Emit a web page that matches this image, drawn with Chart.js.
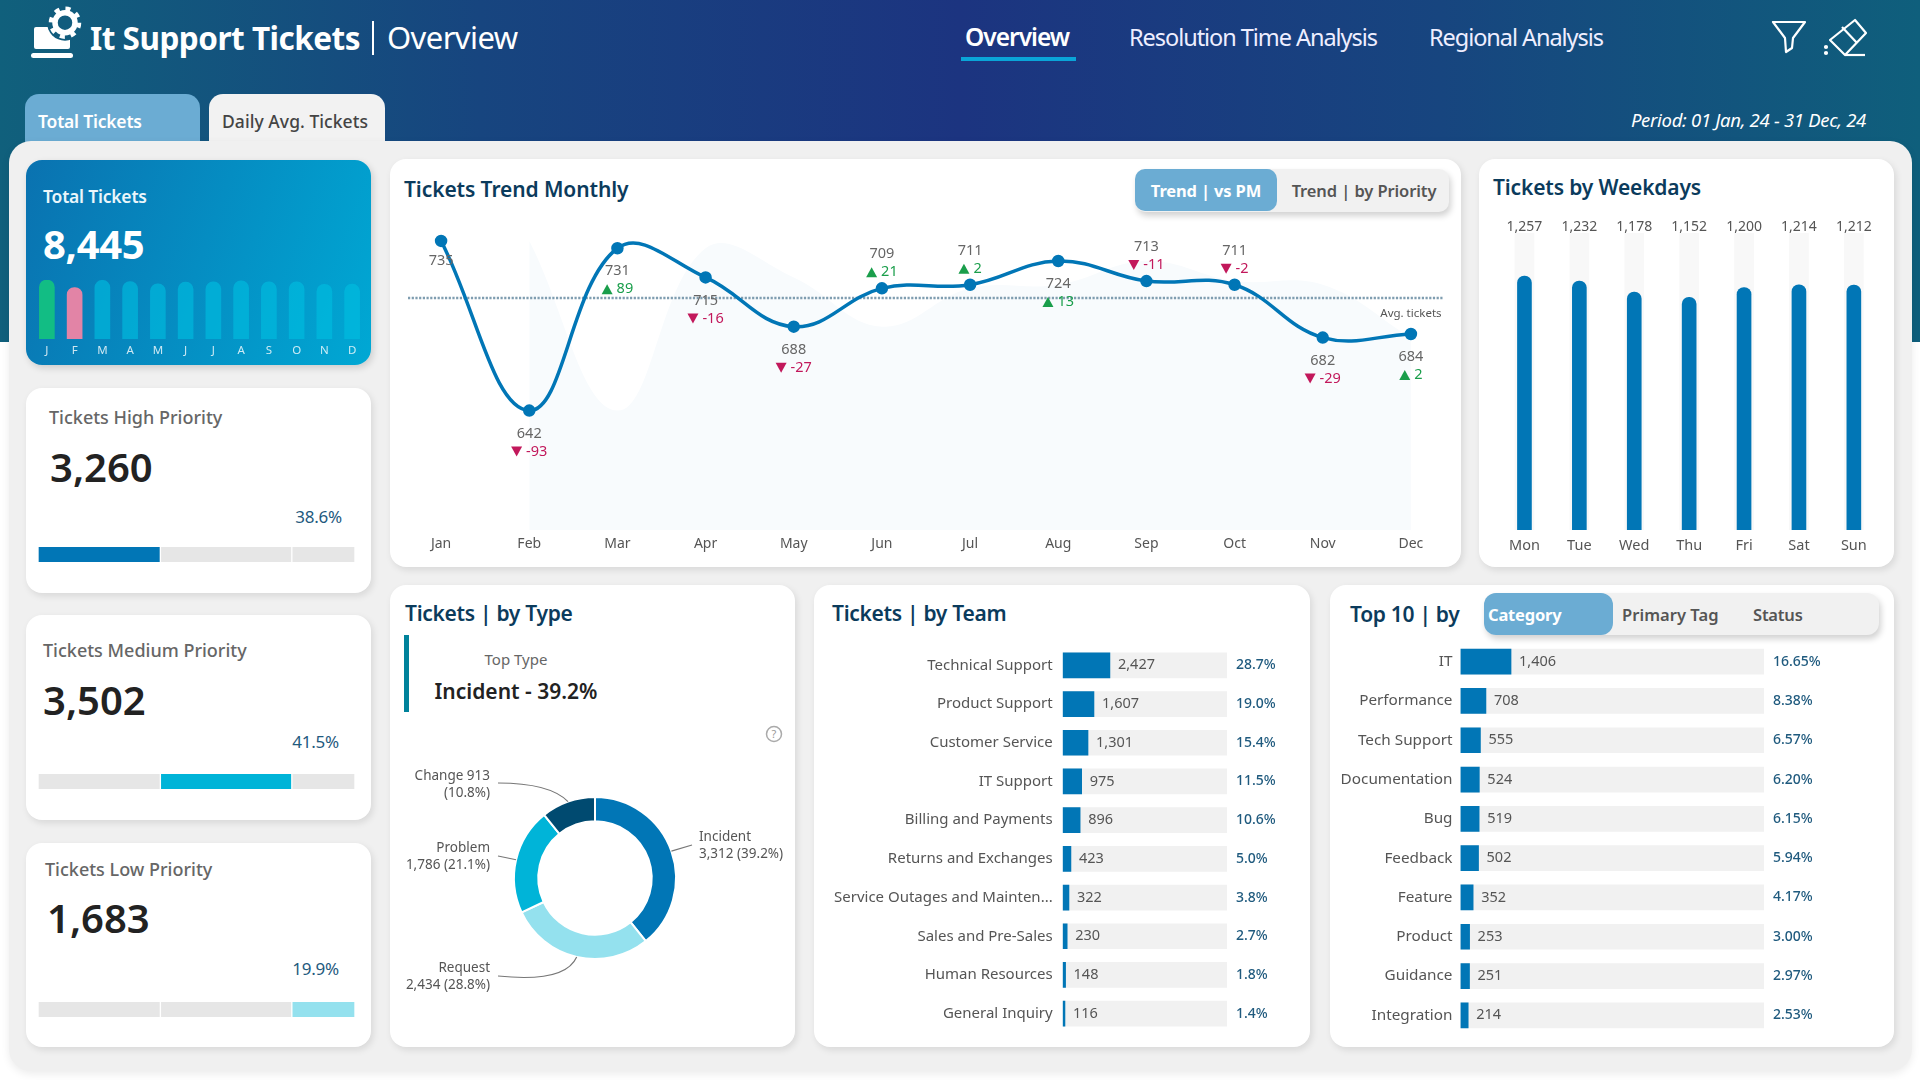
<!DOCTYPE html>
<html><head><meta charset="utf-8">
<script src="https://cdn.jsdelivr.net/npm/chart.js@4"></script>
<style>
*{box-sizing:border-box}
html,body{margin:0;padding:0;width:1920px;height:1080px;overflow:hidden;background:#fff;font-family:"Noto Sans",sans-serif}
.abs,.t,canvas{position:absolute}
.t{white-space:nowrap;transform:translateY(-50%);line-height:1.2}
.r{transform:translate(-100%,-50%)}
.c{transform:translate(-50%,-50%)}
.card{position:absolute;background:#fff;border-radius:16px;box-shadow:2px 3px 7px rgba(0,0,0,.10)}
.h{color:#0b3b5c;font-weight:600;font-size:21px;letter-spacing:-.3px}
.kl{color:#666;font-weight:500;font-size:18px;letter-spacing:0}
.kv{color:#222;font-weight:600;font-size:40px}
.kp{color:#1f5a7e;font-size:17px;letter-spacing:-.2px}
</style></head><body>
<div class="abs" style="left:0;top:0;width:1920px;height:342px;background:linear-gradient(90deg,#10607c 0%,#17457f 25%,#1c3480 50%,#17457f 75%,#0f5f7c 100%)"></div>

<svg class="abs" style="left:20px;top:0" width="70" height="66" viewBox="20 0 70 66" fill="#fff">
<rect x="31" y="53" width="42" height="5" rx="2.5"/>
<path d="M36 27h32q2 0 2 2v18q0 2-2 2H36q-2 0-2-2V29q0-2 2-2z"/>
<circle cx="65" cy="22.700" r="18" fill="#115c7d"/>
<circle cx="65" cy="22.700" r="10" fill="none" stroke="#fff" stroke-width="5.500"/>
<circle cx="65" cy="22.700" r="14" fill="none" stroke="#fff" stroke-width="4.500" stroke-dasharray="5 6"/>
</svg>
<div class="t" style="left:90px;top:38px;color:#fff;font-weight:700;font-size:31.500px;letter-spacing:-.5px">It Support Tickets</div>
<div class="abs" style="left:372px;top:21px;width:2px;height:34px;background:#fff"></div>
<div class="t" style="left:387px;top:38px;color:#fff;font-size:31px;letter-spacing:-.6px">Overview</div>

<div class="t" style="left:965px;top:37px;color:#fff;font-weight:600;font-size:24.500px;letter-spacing:-1px">Overview</div>
<div class="abs" style="left:961px;top:57px;width:115px;height:3.500px;background:#0aa5d8"></div>
<div class="t" style="left:1129px;top:37px;color:#eef;font-size:23.500px;letter-spacing:-1.050px">Resolution Time Analysis</div>
<div class="t" style="left:1429px;top:37px;color:#eef;font-size:23.500px;letter-spacing:-1.050px">Regional Analysis</div>

<svg class="abs" style="left:1760px;top:0" width="120" height="70" viewBox="1760 0 120 70" fill="none" stroke="#fff" stroke-width="2.200" stroke-linejoin="round">
<path d="M1773 22h32l-12 16-1 10-6 4-1-14z"/>
<path d="M1855 20l11 13-21 22-15-15z"/><path d="M1842 27l15 16"/><path d="M1845 55h20"/>
<circle cx="1826" cy="47" r="1" fill="#fff"/><circle cx="1826" cy="53" r="1" fill="#fff"/></svg>

<div class="abs" style="left:25px;top:94px;width:175px;height:50px;border-radius:14px 14px 0 0;background:#6bacd3"></div>
<div class="t" style="left:38px;top:121px;color:#fff;font-weight:600;font-size:17.500px;letter-spacing:-.2px">Total Tickets</div>
<div class="abs" style="left:209px;top:94px;width:176px;height:50px;border-radius:14px 14px 0 0;background:#f2f2f2"></div>
<div class="t" style="left:222px;top:121px;color:#444;font-weight:500;font-size:17.500px;letter-spacing:.05px">Daily Avg. Tickets</div>
<div class="t r" style="left:1866px;top:120px;color:#fff;font-style:italic;font-size:18.500px;letter-spacing:-.3px">Period: 01 Jan, 24 - 31 Dec, 24</div>

<div class="abs" style="left:9px;top:141px;width:1903px;height:930px;border-radius:22px;background:#f0f0f0;box-shadow:0 3px 8px rgba(0,0,0,.08)"></div>

<div class="abs" style="left:26px;top:160px;width:345px;height:205px;border-radius:16px;background:linear-gradient(110deg,#0a72b0,#00a8d4);box-shadow:2px 3px 7px rgba(0,0,0,.15)"></div>
<div class="t" style="left:43px;top:196px;color:#eaf6fb;font-weight:600;font-size:17.500px;letter-spacing:-.2px">Total Tickets</div>
<div class="t" style="left:43px;top:244px;color:#fff;font-weight:700;font-size:40px;letter-spacing:-.3px">8,445</div>
<canvas id="cMini" width="333" height="88" style="left:33px;top:275px"></canvas>

<div class="card" style="left:26px;top:388px;width:345px;height:205px"></div>
<div class="t kl" style="left:49px;top:418px">Tickets High Priority</div>
<div class="t kv" style="left:50px;top:467px">3,260</div>
<div class="t r kp" style="left:342px;top:517px">38.6%</div>
<canvas id="cHigh" width="317" height="15" style="left:38px;top:547px"></canvas>

<div class="card" style="left:26px;top:615px;width:345px;height:205px"></div>
<div class="t kl" style="left:43px;top:651px">Tickets Medium Priority</div>
<div class="t kv" style="left:43px;top:700px">3,502</div>
<div class="t r kp" style="left:339px;top:742px">41.5%</div>
<canvas id="cMed" width="317" height="15" style="left:38px;top:774px"></canvas>

<div class="card" style="left:26px;top:843px;width:345px;height:204px"></div>
<div class="t kl" style="left:45px;top:870px">Tickets Low Priority</div>
<div class="t kv" style="left:47px;top:918px">1,683</div>
<div class="t r kp" style="left:339px;top:969px">19.9%</div>
<canvas id="cLow" width="317" height="15" style="left:38px;top:1002px"></canvas>

<div class="card" style="left:390px;top:159px;width:1071px;height:408px"></div>
<div class="t h" style="left:404px;top:190px;letter-spacing:-.1px">Tickets Trend Monthly</div>
<div class="abs" style="left:1135px;top:169px;width:314px;height:43px;border-radius:10px;background:#f1f1f1;box-shadow:2px 4px 6px rgba(0,0,0,.18)"></div>
<div class="abs" style="left:1135px;top:169px;width:142px;height:42px;border-radius:10px;background:#6bacd3"></div>
<div class="t c" style="left:1206px;top:191px;color:#fff;font-weight:700;font-size:16.500px;letter-spacing:-.15px">Trend | vs PM</div>
<div class="t c" style="left:1364px;top:191px;color:#555;font-weight:600;font-size:16.500px;letter-spacing:-.1px">Trend | by Priority</div>
<canvas id="cTrend" width="1074" height="347" style="left:388.500px;top:218px"></canvas>

<div class="card" style="left:1479px;top:159px;width:415px;height:408px"></div>
<div class="t h" style="left:1493px;top:188px;letter-spacing:-.15px">Tickets by Weekdays</div>
<canvas id="cWeek" width="395" height="367" style="left:1490px;top:200px"></canvas>

<div class="card" style="left:390px;top:585px;width:405px;height:462px"></div>
<div class="t h" style="left:405px;top:614px">Tickets | by Type</div>
<div class="abs" style="left:404px;top:635px;width:5px;height:77px;background:#00829b"></div>
<div class="t c" style="left:516px;top:659px;color:#666;font-size:15px">Top Type</div>
<div class="t c" style="left:516px;top:692px;color:#222;font-weight:600;font-size:21px">Incident - 39.2%</div>
<svg class="abs" style="left:765px;top:725px" width="18" height="18" viewBox="0 0 18 18"><circle cx="9" cy="9" r="7.500" fill="none" stroke="#aaa" stroke-width="1.500"/><text x="9" y="13" text-anchor="middle" font-size="11" fill="#999">?</text></svg>
<canvas id="cType" width="400" height="240" style="left:395px;top:757.700px"></canvas>

<div class="card" style="left:814px;top:585px;width:496px;height:462px"></div>
<div class="t h" style="left:832px;top:614px">Tickets | by Team</div>
<canvas id="cTeam" width="480" height="387" style="left:826px;top:646.300px"></canvas>

<div class="card" style="left:1330px;top:585px;width:564px;height:462px"></div>
<div class="t h" style="left:1350px;top:615px">Top 10 | by</div>
<div class="abs" style="left:1484px;top:593px;width:395px;height:42px;border-radius:12px;background:#f1f1f1;box-shadow:2px 4px 6px rgba(0,0,0,.18)"></div>
<div class="abs" style="left:1484px;top:593px;width:129px;height:42px;border-radius:12px;background:#6bacd3"></div>
<div class="t" style="left:1488px;top:615px;color:#fff;font-weight:700;font-size:16.500px;letter-spacing:-.2px">Category</div>
<div class="t" style="left:1622px;top:615px;color:#555;font-weight:600;font-size:16.500px;letter-spacing:.05px">Primary Tag</div>
<div class="t" style="left:1753px;top:615px;color:#555;font-weight:600;font-size:16.500px;letter-spacing:-.2px">Status</div>
<canvas id="cTop" width="540" height="393.500" style="left:1340px;top:641.800px"></canvas>

<script>
const months = ['Jan','Feb','Mar','Apr','May','Jun','Jul','Aug','Sep','Oct','Nov','Dec'];
const monthInitials = ['J','F','M','A','M','J','J','A','S','O','N','D'];
const monthlyTickets = [735,642,731,715,688,709,711,724,713,711,682,684];
const previousMonth = [null,735,642,731,715,688,709,711,724,713,711,682];
const monthDelta = [null,-93,89,-16,-27,21,2,13,-11,-2,-29,2];
const monthLabelBelow = [true,true,true,true,true,false,false,true,false,false,true,true];
const avgTickets = 703.75;
const weekdays = ['Mon','Tue','Wed','Thu','Fri','Sat','Sun'];
const weekdayTickets = [1257,1232,1178,1152,1200,1214,1212];
const priorityTickets = [3260,3502,1683];
const typeNames = ['Incident','Request','Problem','Change'];
const typeTickets = [3312,2434,1786,913];
const typeLabelLines = [['Incident','3,312 (39.2%)'],['Request','2,434 (28.8%)'],['Problem','1,786 (21.1%)'],['Change 913','(10.8%)']];
const teams = ['Technical Support','Product Support','Customer Service','IT Support','Billing and Payments','Returns and Exchanges','Service Outages and Mainten...','Sales and Pre-Sales','Human Resources','General Inquiry'];
const teamTickets = [2427,1607,1301,975,896,423,322,230,148,116];
const teamShare = ['28.7%','19.0%','15.4%','11.5%','10.6%','5.0%','3.8%','2.7%','1.8%','1.4%'];
const topCategories = ['IT','Performance','Tech Support','Documentation','Bug','Feedback','Feature','Product','Guidance','Integration'];
const topTickets = [1406,708,555,524,519,502,352,253,251,214];
const topShare = ['16.65%','8.38%','6.57%','6.20%','6.15%','5.94%','4.17%','3.00%','2.97%','2.53%'];
const totalTickets = 8445;

const FONT = '"Noto Sans", sans-serif';
const BLUE = '#0176b6';
Chart.defaults.font.family = FONT;
Chart.defaults.animation = false;
Chart.defaults.responsive = false;
Chart.defaults.plugins.legend.display = false;
Chart.defaults.plugins.tooltip.enabled = false;
const fmt = n => n.toLocaleString('en-US');
const hiddenGrid = {display:false, drawTicks:false};

/* ---- KPI mini bars ---- */
new Chart('cMini',{type:'bar',
  data:{labels:monthInitials,datasets:[{data:monthlyTickets,barThickness:15,
    borderRadius:{topLeft:7.5,topRight:7.5},borderSkipped:'bottom',
    backgroundColor:ctx=>ctx.dataIndex===0?'#12bd84':ctx.dataIndex===1?'#e284a6':'rgba(0,190,225,.62)'}]},
  options:{layout:{padding:{top:5}},
    scales:{x:{grid:hiddenGrid,border:{display:false},afterFit:s=>{s.height=24},
        ticks:{color:'rgba(255,255,255,.8)',font:{size:11.500},padding:5,maxRotation:0,autoSkip:false}},
      y:{display:false,min:0,max:735}}}});

/* ---- Priority segment bars ---- */
[['cHigh',0,BLUE],['cMed',1,'#00b4d8'],['cLow',2,'#94e1ee']].forEach(([id,active,colour])=>{
  new Chart(id,{type:'bar',
    data:{labels:['Share'],datasets:priorityTickets.map((v,i)=>({data:[v],
      backgroundColor:i===active?colour:'#e6e6e6',borderColor:'#fff',
      borderWidth:{left:1,right:1,top:0,bottom:0},borderSkipped:false,
      barPercentage:1,categoryPercentage:1,stack:'a'}))},
    options:{indexAxis:'y',scales:{x:{display:false,stacked:true,min:0,max:totalTickets},y:{display:false,stacked:true}}}});
});

/* ---- Monthly trend ---- */
const trendOverlay = {id:'trendOverlay',
  afterDatasetDraw(chart,args){
    if(args.index!==0) return;
    const {ctx,chartArea:a,scales:{y}} = chart;
    const py = y.getPixelForValue(avgTickets);
    ctx.save();ctx.strokeStyle='#7f9db0';ctx.lineWidth=2.500;ctx.setLineDash([2.2,1.5]);
    ctx.beginPath();ctx.moveTo(a.left+11,py);ctx.lineTo(a.right-12,py);ctx.stroke();ctx.restore();
  },
  afterDatasetsDraw(chart){
    const {ctx} = chart;
    const pts = chart.getDatasetMeta(1).data;
    ctx.save();ctx.textAlign='center';ctx.textBaseline='middle';
    pts.forEach((p,i)=>{
      const below = monthLabelBelow[i];
      ctx.font='14.5px '+FONT;ctx.fillStyle='#666';
      ctx.fillText(fmt(monthlyTickets[i]),p.x,p.y+(below?(i===0?20:23):-34));
      const d = monthDelta[i];
      if(d===null) return;
      const cy = p.y+(below?41:-16);
      const colour = d<0?'#c2185b':'#1a9e4b';
      ctx.font='14.5px '+FONT;ctx.fillStyle=colour;
      const txt=String(d), w=ctx.measureText(txt).width, total=w+15;
      const left=p.x-total/2;
      ctx.beginPath();
      if(d<0){ctx.moveTo(left,cy-5);ctx.lineTo(left+11,cy-5);ctx.lineTo(left+5.5,cy+5);}
      else{ctx.moveTo(left,cy+5);ctx.lineTo(left+11,cy+5);ctx.lineTo(left+5.5,cy-5);}
      ctx.closePath();ctx.fill();
      ctx.textAlign='left';ctx.fillText(txt,left+15,cy);ctx.textAlign='center';
    });
    const last = pts[pts.length-1];
    ctx.font='11.5px '+FONT;ctx.fillStyle='#555';
    ctx.fillText('Avg. tickets',last.x,last.y-20);
    ctx.restore();
  }};
new Chart('cTrend',{type:'line',
  data:{labels:months,datasets:[
    {data:previousMonth,fill:'origin',backgroundColor:'#f8fbfd',borderWidth:0,pointRadius:0,tension:.4,order:2},
    {data:monthlyTickets,borderColor:BLUE,backgroundColor:BLUE,borderWidth:3.500,pointRadius:4.5,tension:.4,fill:false,order:1}]},
  options:{layout:{padding:{top:3,left:4.600,right:4.600}},clip:false,
    scales:{x:{offset:true,grid:hiddenGrid,border:{display:false},afterFit:s=>{s.height=35},
        ticks:{color:'#555',font:{size:14},padding:6}},
      y:{display:false,min:576.5,max:743.2}}},
  plugins:[trendOverlay]});

/* ---- Weekdays ---- */
const weekTop = {id:'weekTop',afterDatasetsDraw(chart){
  const {ctx,chartArea:a} = chart;
  ctx.save();ctx.textAlign='center';ctx.textBaseline='middle';ctx.font='14px '+FONT;ctx.fillStyle='#555';
  chart.getDatasetMeta(0).data.forEach((b,i)=>ctx.fillText(fmt(weekdayTickets[i]),b.x,a.top-6));
  ctx.restore();}};
const weekScaleMax = 1470;
new Chart('cWeek',{type:'bar',
  data:{labels:weekdays,datasets:[
    {data:weekdayTickets,backgroundColor:BLUE,barThickness:14,borderRadius:{topLeft:7,topRight:7},borderSkipped:'bottom',order:1},
    {data:weekdays.map(()=>weekScaleMax),backgroundColor:'#f8f8f8',barThickness:19,order:2}]},
  options:{layout:{padding:{top:33,left:7,right:3.700}},
    datasets:{bar:{grouped:false}},
    scales:{x:{grid:hiddenGrid,border:{display:false},afterFit:s=>{s.height=37},ticks:{color:'#555',font:{size:14.500},padding:7}},
      y:{display:false,min:0,max:weekScaleMax}}},
  plugins:[weekTop]});

/* ---- Type donut ---- */
const calloutText = [{x:104,ys:[-41,-24],align:'left',sx:97,sy:-33,cx:null},
  {x:-105,ys:[90,107],align:'right',sx:-97,sy:98,cx:-30,cy:105},
  {x:-105,ys:[-30,-13],align:'right',sx:-97,sy:-22,cx:null},
  {x:-105,ys:[-102,-85],align:'right',sx:-97,sy:-95,cx:-45,cy:-95}];
const donutCallouts = {id:'donutCallouts',afterDatasetsDraw(chart){
  const {ctx} = chart;
  ctx.save();
  chart.getDatasetMeta(0).data.forEach((arc,i)=>{
    const {x,y,startAngle,endAngle,outerRadius} = arc.getProps(['x','y','startAngle','endAngle','outerRadius']);
    const mid=(startAngle+endAngle)/2, c=calloutText[i];
    ctx.strokeStyle='#777';ctx.lineWidth=1.2;ctx.beginPath();ctx.moveTo(x+c.sx,y+c.sy);
    const ex=x+Math.cos(mid)*outerRadius, ey=y+Math.sin(mid)*outerRadius;
    if(c.cx===null) ctx.lineTo(ex,ey); else ctx.quadraticCurveTo(x+c.cx,y+c.cy,ex,ey);
    ctx.stroke();
    ctx.fillStyle='#555';ctx.font='13.5px '+FONT;ctx.textAlign=c.align;ctx.textBaseline='middle';
    typeLabelLines[i].forEach((line,j)=>ctx.fillText(line,x+c.x,y+c.ys[j]));
  });
  ctx.restore();}};
new Chart('cType',{type:'doughnut',
  data:{labels:typeNames,datasets:[{data:typeTickets,backgroundColor:[BLUE,'#94e1ee','#00b4d8','#004a70'],borderColor:'#fff',borderWidth:2,radius:81,cutout:'70%'}]},
  plugins:[donutCallouts]});

/* ---- Horizontal ranked bars ---- */
function rankedBars(id,labels,values,shares,axisWidth,rightPad,labelSize,tickPad){
  const rowText = {id:'rowText',afterDatasetsDraw(chart){
    const {ctx,chartArea:a} = chart;
    ctx.save();ctx.textBaseline='middle';ctx.textAlign='left';
    chart.getDatasetMeta(0).data.forEach((b,i)=>{
      ctx.font='14.5px '+FONT;ctx.fillStyle='#555';ctx.fillText(fmt(values[i]),b.x+8,b.y);
      ctx.font='500 14px '+FONT;ctx.fillStyle='#1f5a7e';ctx.fillText(shares[i],a.right+9,b.y);
    });
    ctx.restore();}};
  new Chart(id,{type:'bar',
    data:{labels,datasets:[
      {data:values,backgroundColor:BLUE,barThickness:25,order:1},
      {data:labels.map(()=>totalTickets),backgroundColor:'#f1f1f1',barThickness:25,order:2}]},
    options:{indexAxis:'y',layout:{padding:{right:rightPad}},
      datasets:{bar:{grouped:false}},
      scales:{x:{display:false,min:0,max:totalTickets},
        y:{grid:hiddenGrid,border:{display:false},
          afterFit:s=>{s.width=axisWidth;s.paddingTop=0;s.paddingBottom=0},
          ticks:{color:'#555',font:{size:labelSize},padding:tickPad,autoSkip:false}}}},
    plugins:[rowText]});
}
rankedBars('cTeam',teams,teamTickets,teamShare,236.700,79,15,10);
rankedBars('cTop',topCategories,topTickets,topShare,120.500,116,15.300,8);
</script>
</body></html>
